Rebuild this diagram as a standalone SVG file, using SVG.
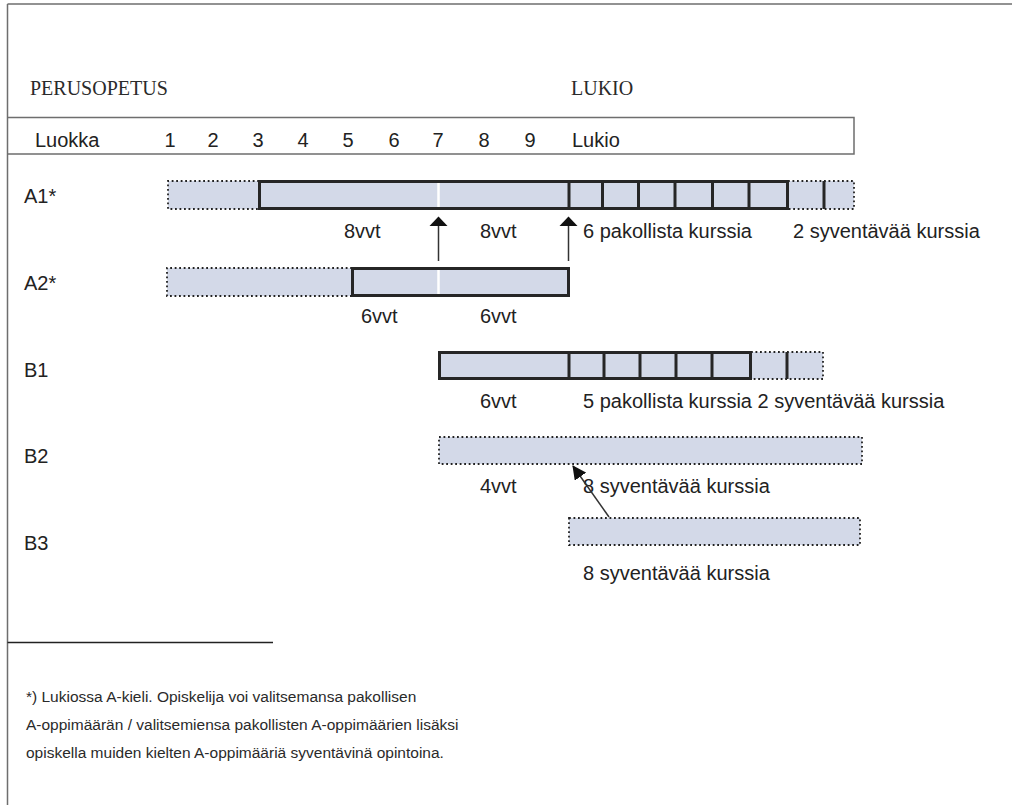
<svg xmlns="http://www.w3.org/2000/svg" width="1012" height="805" viewBox="0 0 1012 805">
<style>
.frame{stroke:#6e6e6e;stroke-width:1.5;fill:none}
.serif{font-family:"Liberation Serif","Times New Roman",serif;font-size:20px;fill:#2a2a2a}
.t{font-family:"Liberation Sans",Arial,sans-serif;font-size:20px;fill:#222}
.fn{font-family:"Liberation Sans",Arial,sans-serif;font-size:15.5px;fill:#2a2a2a}
.fill{fill:#d3d9e8;stroke:none}
.solid{fill:#d3d9e8;stroke:#262626;stroke-width:3}
.div{stroke:#262626;stroke-width:3}
.dot{stroke:#222;stroke-width:1.8;stroke-dasharray:1.8 2.7;fill:none}
.white{stroke:#ffffff;stroke-width:2.5}
.arr{stroke:#333;stroke-width:1.5;fill:none}
</style>
<defs>
<marker id="ah" markerWidth="14" markerHeight="14" refX="13" refY="7" orient="auto" markerUnits="userSpaceOnUse" viewBox="0 0 14 14">
<path d="M0,0 L14,7 L0,14 z" fill="#111"/>
</marker>
</defs>

<g id="frame">
<line class="frame" x1="7.5" y1="4" x2="1012" y2="4"/>
<line class="frame" x1="7.5" y1="4" x2="7.5" y2="805"/>
<line x1="7.5" y1="642.5" x2="273" y2="642.5" stroke="#222" stroke-width="1.5"/>
</g>

<g id="titles">
<text class="serif" x="30" y="95">PERUSOPETUS</text>
<text class="serif" x="571" y="95">LUKIO</text>
</g>

<g id="header">
<path class="frame" d="M7.5,117.5 H854 V154 H7.5"/>
<text class="t" x="35" y="147">Luokka</text>
<g text-anchor="middle">
<text class="t" x="170" y="147">1</text>
<text class="t" x="213" y="147">2</text>
<text class="t" x="258" y="147">3</text>
<text class="t" x="303" y="147">4</text>
<text class="t" x="348" y="147">5</text>
<text class="t" x="394" y="147">6</text>
<text class="t" x="438" y="147">7</text>
<text class="t" x="484" y="147">8</text>
<text class="t" x="530" y="147">9</text>
</g>
<text class="t" x="572" y="147">Lukio</text>
</g>

<g id="A1">
<text class="t" x="24" y="203">A1*</text>
<rect class="fill" x="168" y="181" width="92" height="28"/>
<path class="dot" d="M259,181 H168 V209 H259"/>
<rect class="fill" x="787" y="181" width="67" height="28"/>
<path class="dot" d="M788,181 H854 V209 H788"/>
<rect class="solid" x="259.5" y="181.5" width="528" height="27"/>
<line class="white" x1="438.5" y1="183" x2="438.5" y2="207"/>
<line class="div" x1="569" y1="181" x2="569" y2="209"/>
<line class="div" x1="602.5" y1="181" x2="602.5" y2="209"/>
<line class="div" x1="638.5" y1="181" x2="638.5" y2="209"/>
<line class="div" x1="675" y1="181" x2="675" y2="209"/>
<line class="div" x1="712.5" y1="181" x2="712.5" y2="209"/>
<line class="div" x1="749" y1="181" x2="749" y2="209"/>
<line class="div" x1="824" y1="181" x2="824" y2="209"/>
<text class="t" x="344" y="238">8vvt</text>
<text class="t" x="480" y="238">8vvt</text>
<text class="t" x="583" y="238">6 pakollista kurssia</text>
<text class="t" x="793" y="238">2 syventävää kurssia</text>
</g>

<g id="A2">
<text class="t" x="24" y="290">A2*</text>
<rect class="fill" x="167" y="268" width="186" height="28"/>
<path class="dot" d="M352,268 H167 V296 H352"/>
<rect class="solid" x="352.5" y="268.5" width="216" height="27"/>
<line class="white" x1="438.5" y1="270" x2="438.5" y2="294"/>
<text class="t" x="361" y="323">6vvt</text>
<text class="t" x="480" y="323">6vvt</text>
</g>

<g id="B1">
<text class="t" x="24" y="377">B1</text>
<rect class="fill" x="750" y="352" width="73" height="27"/>
<path class="dot" d="M751,352 H823 V379 H751"/>
<rect class="solid" x="439.5" y="352.5" width="311" height="26"/>
<line class="div" x1="569" y1="352" x2="569" y2="379"/>
<line class="div" x1="604" y1="352" x2="604" y2="379"/>
<line class="div" x1="640" y1="352" x2="640" y2="379"/>
<line class="div" x1="676" y1="352" x2="676" y2="379"/>
<line class="div" x1="712" y1="352" x2="712" y2="379"/>
<line class="div" x1="787" y1="352" x2="787" y2="379"/>
<text class="t" x="480" y="408">6vvt</text>
<text class="t" x="583" y="408">5 pakollista kurssia 2 syventävää kurssia</text>
</g>

<g id="B2">
<text class="t" x="24" y="463">B2</text>
<rect class="fill" x="439" y="437" width="423" height="27"/>
<rect class="dot" x="439" y="437" width="423" height="27"/>
<text class="t" x="480" y="493">4vvt</text>
<text class="t" x="583" y="493">8 syventävää kurssia</text>
</g>

<g id="B3">
<text class="t" x="24" y="550">B3</text>
<rect class="fill" x="569" y="518" width="291" height="27"/>
<rect class="dot" x="569" y="518" width="291" height="27"/>
<text class="t" x="583" y="580">8 syventävää kurssia</text>
</g>

<g id="connectors">
<line class="arr" x1="438.5" y1="261" x2="438.5" y2="224"/>
<path d="M438.5,216.5 L447.5,226 L429.5,226 z" fill="#111"/>
<line class="arr" x1="568.5" y1="261" x2="568.5" y2="224"/>
<path d="M568.5,216.5 L577.5,226 L559.5,226 z" fill="#111"/>
<line class="arr" x1="609" y1="517" x2="573" y2="466" marker-end="url(#ah)"/>
</g>

<g id="footnote">
<text class="fn" x="26" y="702">*) Lukiossa A-kieli. Opiskelija voi valitsemansa pakollisen</text>
<text class="fn" x="26" y="730">A-oppimäärän / valitsemiensa pakollisten A-oppimäärien lisäksi</text>
<text class="fn" x="26" y="758">opiskella muiden kielten A-oppimääriä syventävinä opintoina.</text>
</g>
</svg>
